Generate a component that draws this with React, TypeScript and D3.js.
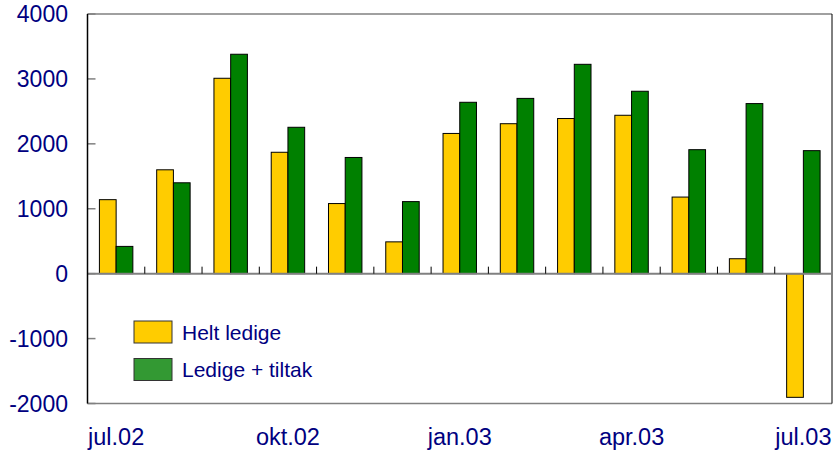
import React from "react";
import * as d3 from "d3";

const categories = ["jul.02","aug.02","sep.02","okt.02","nov.02","des.02","jan.03","feb.03","mar.03","apr.03","mai.03","jun.03","jul.03"];
const heltLedige = [1140, 1600, 3010, 1870, 1080, 490, 2160, 2310, 2390, 2440, 1180, 230, -1905];
const ledigeTiltak = [420, 1400, 3380, 2255, 1790, 1110, 2640, 2700, 3225, 2810, 1910, 2620, 1895];
const yTicks = [-2000, -1000, 0, 1000, 2000, 3000, 4000];
const xLabelIdx = [0, 3, 6, 9, 12];
const seriesNames = ["Helt ledige", "Ledige + tiltak"];

export default function App() {
  const W = 835, H = 454;
  const left = 87.5, right = 832, top = 14, bottom = 403.5;
  const x = d3.scaleBand<string>().domain(categories).range([left, right]);
  const y = d3.scaleLinear().domain([-2000, 4000]).range([bottom, top]);
  const bw = x.bandwidth();
  const barW = bw * 0.292;
  const y0 = y(0);
  const font = "Liberation Sans, Arial, sans-serif";
  const navy = "#000080";

  return (
    <svg width={W} height={H} style={{ position: "absolute", left: 0, top: 0, background: "#fff" }}>
      {/* borders */}
      <line x1={left} x2={right} y1={top} y2={top} stroke="#808080" strokeWidth={1.5} />
      <line x1={left} x2={right} y1={bottom} y2={bottom} stroke="#808080" strokeWidth={1.5} />
      <line x1={right} x2={right} y1={top} y2={bottom} stroke="#000" strokeWidth={1} />
      {/* y ticks */}
      {yTicks.map((t) => (
        <g key={t}>
          <line x1={left} x2={left + 8} y1={y(t)} y2={y(t)} stroke="#808080" strokeWidth={1.5} />
          <text x={68} y={y(t)} dy="0.36em" textAnchor="end" fontFamily={font} fontSize={23} fill={navy}>{t}</text>
        </g>
      ))}
      {/* bars */}
      {categories.map((c, i) => {
        const cx = x(c)! + bw / 2;
        const v1 = heltLedige[i], v2 = ledigeTiltak[i];
        return (
          <g key={c}>
            <rect x={cx - barW} y={Math.min(y(v1), y0)} width={barW} height={Math.abs(y(v1) - y0)} fill="#FFCC00" stroke="#000" strokeWidth={1} />
            <rect x={cx} y={Math.min(y(v2), y0)} width={barW} height={Math.abs(y(v2) - y0)} fill="#008000" stroke="#000" strokeWidth={1} />
          </g>
        );
      })}
      {/* zero line */}
      <line x1={left} x2={right} y1={y0} y2={y0} stroke="#808080" strokeWidth={2} />
      {categories.slice(1).map((c) => (
        <line key={c} x1={x(c)!} x2={x(c)!} y1={y0} y2={y0 - 7} stroke="#000" strokeWidth={1} />
      ))}
      {/* left axis */}
      <line x1={left} x2={left} y1={top} y2={bottom} stroke="#000" strokeWidth={1.5} />
      {/* x labels */}
      {xLabelIdx.map((i) => (
        <text key={i} x={x(categories[i])! + bw / 2} y={445} textAnchor="middle" fontFamily={font} fontSize={23.5} fill={navy}>{categories[i]}</text>
      ))}
      {/* legend */}
      {seriesNames.map((n, i) => (
        <g key={n}>
          <rect x={134} y={321 + i * 37.5} width={38} height={22} fill={i === 0 ? "#FFCC00" : "#339933"} stroke="#333" strokeWidth={1} />
          <text x={182} y={332 + i * 37.5} dy="0.36em" fontFamily={font} fontSize={21} fill={navy}>{n}</text>
        </g>
      ))}
    </svg>
  );
}
